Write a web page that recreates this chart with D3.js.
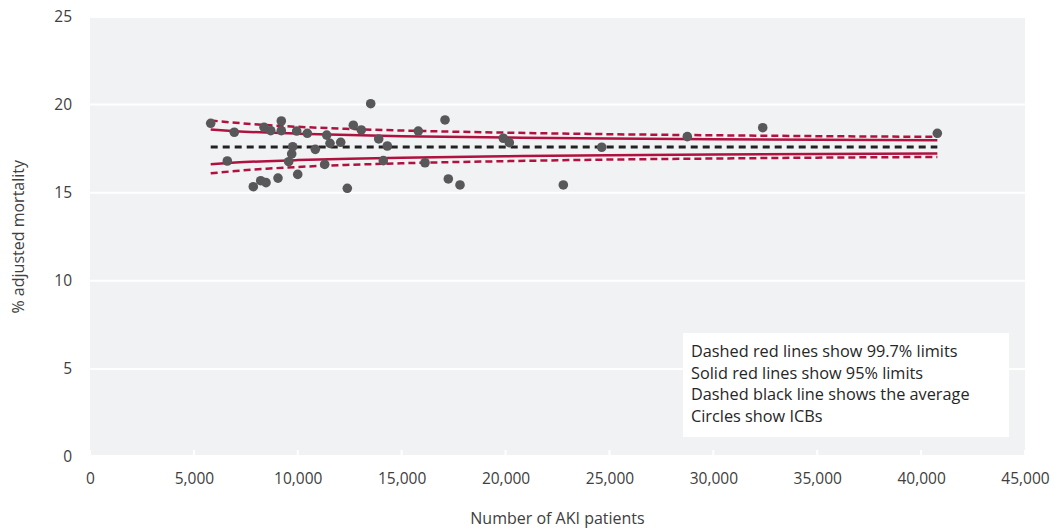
<!DOCTYPE html>
<html>
<head>
<meta charset="utf-8">
<script src="https://cdn.jsdelivr.net/npm/d3@7"></script>
<style>
  html, body { margin: 0; padding: 0; background: #ffffff; }
  svg { display: block; font-family: "Open Sans", Lato, sans-serif; }
</style>
</head>
<body>
<svg id="chart" width="1059" height="530"></svg>
<script>
// ICB results: number of AKI patients and % adjusted mortality
const patients = [5809, 6608, 6945, 7860, 8216, 8375, 8471, 8697, 9048, 9207,
  9207, 9563, 9708, 9756, 9948, 9997, 10459, 10844, 11296, 11392,
  11551, 12066, 12384, 12673, 13058, 13510, 13895, 14116, 14309, 15801,
  16124, 17086, 17245, 17808, 19892, 20181, 22780, 24628, 28748, 32377, 40781];
const mortality = [18.94, 16.80, 18.43, 15.34, 15.68, 18.71, 15.57, 18.52, 15.83, 19.07,
  18.52, 16.76, 17.20, 17.61, 18.50, 16.04, 18.37, 17.46, 16.61, 18.27,
  17.80, 17.86, 15.25, 18.83, 18.56, 20.05, 18.05, 16.82, 17.65, 18.50,
  16.70, 19.13, 15.78, 15.44, 18.09, 17.84, 15.44, 17.58, 18.18, 18.69, 18.37];

// Average and control limits along the x axis
const average = 17.6;
const limitX      = [5809, 7000, 8500, 10000, 12500, 15000, 20000, 25000, 30000, 35000, 40781];
const upper95     = [18.58, 18.49, 18.41, 18.35, 18.27, 18.21, 18.13, 18.07, 18.03, 18.00, 17.97];
const lower95     = [16.62, 16.71, 16.79, 16.85, 16.93, 16.99, 17.07, 17.13, 17.17, 17.20, 17.23];
const upper997    = [19.10, 18.97, 18.84, 18.74, 18.62, 18.53, 18.41, 18.32, 18.26, 18.21, 18.17];
const lower997    = [16.10, 16.23, 16.36, 16.46, 16.58, 16.67, 16.79, 16.88, 16.94, 16.99, 17.03];

const xTicks = [0, 5000, 10000, 15000, 20000, 25000, 30000, 35000, 40000, 45000];
const yTicks = [0, 5, 10, 15, 20, 25];

const legendLines = [
  "Dashed red lines show 99.7% limits",
  "Solid red lines show 95% limits",
  "Dashed black line shows the average",
  "Circles show ICBs"
];

const svg = d3.select("#chart");
const x = d3.scaleLinear().domain([0, 45000]).range([90, 1025]);
const y = d3.scaleLinear().domain([0, 25]).range([457, 16.5]);

const red = "#B0123F";
const textColor = "#404040";
const font = "'Open Sans', Lato, sans-serif";

// plot background
svg.append("rect")
  .attr("x", x(0)).attr("y", 18)
  .attr("width", x(45000) - x(0)).attr("height", 455 - 18)
  .attr("fill", "#F1F2F4");

// horizontal gridlines
svg.append("g")
  .selectAll("line")
  .data(yTicks.filter(d => d > 0 && d < 25))
  .join("line")
  .attr("x1", x(0)).attr("x2", x(45000))
  .attr("y1", d => y(d)).attr("y2", d => y(d))
  .attr("stroke", "#ffffff").attr("stroke-width", 2);

// small white tick notches along the bottom edge
svg.append("g")
  .selectAll("line")
  .data(xTicks)
  .join("line")
  .attr("x1", d => x(d)).attr("x2", d => x(d))
  .attr("y1", 450).attr("y2", 455)
  .attr("stroke", "#ffffff").attr("stroke-width", 2);

// y axis labels
const yAxis = d3.axisLeft(y).tickValues(yTicks).tickSize(0).tickPadding(0);
const gy = svg.append("g").attr("transform", "translate(72,0)").call(yAxis);
gy.select(".domain").remove();
gy.selectAll("text")
  .attr("font-size", 15.5).attr("fill", textColor)
  .attr("font-family", font);

// x axis labels
const xAxis = d3.axisBottom(x).tickValues(xTicks).tickSize(0).tickPadding(0)
  .tickFormat(d3.format(","));
const gx = svg.append("g").attr("transform", "translate(0,473)").call(xAxis);
gx.select(".domain").remove();
gx.selectAll("text")
  .attr("font-size", 15.5).attr("fill", textColor)
  .attr("font-family", font);

// axis titles
svg.append("text")
  .attr("x", (x(0) + x(45000)) / 2).attr("y", 524)
  .attr("text-anchor", "middle")
  .attr("font-size", 16).attr("fill", textColor)
  .text("Number of AKI patients");

svg.append("text")
  .attr("transform", `translate(24,${y(12.5)}) rotate(-90)`)
  .attr("text-anchor", "middle")
  .attr("font-size", 16).attr("fill", textColor)
  .text("% adjusted mortality");

// limit lines
const limitLine = d3.line()
  .x((d, i) => x(limitX[i]))
  .y(d => y(d))
  .curve(d3.curveMonotoneX);

const limits = [
  { values: upper997, dash: "7,4" },
  { values: lower997, dash: "7,4" },
  { values: upper95, dash: null },
  { values: lower95, dash: null }
];
svg.append("g")
  .selectAll("path")
  .data(limits)
  .join("path")
  .attr("d", d => limitLine(d.values))
  .attr("fill", "none")
  .attr("stroke", red)
  .attr("stroke-width", 2.5)
  .attr("stroke-dasharray", d => d.dash);

// average line
svg.append("line")
  .attr("x1", x(limitX[0])).attr("x2", x(limitX[limitX.length - 1]))
  .attr("y1", y(average)).attr("y2", y(average))
  .attr("stroke", "#222222").attr("stroke-width", 3)
  .attr("stroke-dasharray", "7,5");

// ICB circles
svg.append("g")
  .selectAll("circle")
  .data(patients.map((p, i) => [p, mortality[i]]))
  .join("circle")
  .attr("cx", d => x(d[0]))
  .attr("cy", d => y(d[1]))
  .attr("r", 4.8)
  .attr("fill", "#58585A");

// legend box
const legend = svg.append("g");
legend.append("rect")
  .attr("x", 683).attr("y", 333).attr("width", 326).attr("height", 104)
  .attr("fill", "#ffffff");
legend.selectAll("text")
  .data(legendLines)
  .join("text")
  .attr("x", 691)
  .attr("y", (d, i) => 357 + i * 21.5)
  .attr("font-size", 16.3).attr("fill", "#262626")
  .text(d => d);
</script>
</body>
</html>
